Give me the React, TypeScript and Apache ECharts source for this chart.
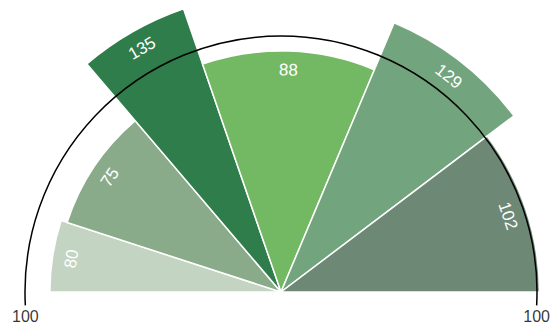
import React, { useEffect, useRef } from 'react';
import * as echarts from 'echarts';

// slice values (radius) in drawing order, left to right
const values = [80, 75, 135, 88, 129, 102];
// angular share of each slice (degrees of the half circle)
const angularSpans = [18, 31.6, 21.4, 41.8, 30.1, 37.1];
const colors = ['#c4d4c2', '#8aab8a', '#2e7d4a', '#73b862', '#72a47e', '#6e8876'];
// reference ring value and where its tick labels sit on the angle scale
const ringValue = 100;
const ringLabelAngles = [-3, 183];

const FONT = 'Liberation Sans, Arial, Helvetica, sans-serif';

export default function App() {
  const ref = useRef<HTMLDivElement>(null);
  useEffect(() => {
    const chart = echarts.init(ref.current!, null, { renderer: 'svg' });
    let acc = 0;
    const sectorData = values.map((v, i) => {
      const a0 = acc;
      acc += angularSpans[i];
      return [v, a0, acc];
    });

    const renderSector = (params: any, api: any) => {
      const cs = params.coordSys;
      const v = api.value(0);
      const p0 = api.coord([v, api.value(1)]);
      const p1 = api.coord([v, api.value(2)]);
      const r = Math.hypot(p0[0] - cs.cx, p0[1] - cs.cy);
      const s = Math.atan2(p0[1] - cs.cy, p0[0] - cs.cx);
      let e = Math.atan2(p1[1] - cs.cy, p1[0] - cs.cx);
      while (e < s) e += 2 * Math.PI;
      return {
        type: 'sector',
        shape: { cx: cs.cx, cy: cs.cy, r0: 0, r, startAngle: s, endAngle: e, clockwise: true },
        style: { fill: colors[params.dataIndex], stroke: '#fff', lineWidth: 1.5 },
      };
    };

    const renderLabel = (params: any, api: any) => {
      const cs = params.coordSys;
      const v = api.value(0);
      const am = (api.value(1) + api.value(2)) / 2;
      const p = api.coord([v, am]);
      const dx = p[0] - cs.cx;
      const dy = p[1] - cs.cy;
      const r = Math.hypot(dx, dy);
      const rl = r - 19;
      const theta = Math.atan2(-dy, dx);
      return {
        type: 'text',
        x: cs.cx + (dx / r) * rl,
        y: cs.cy + (dy / r) * rl,
        rotation: theta - Math.PI / 2,
        style: {
          text: String(v),
          fill: '#fff',
          fontSize: 17,
          fontFamily: FONT,
          align: 'center',
          verticalAlign: 'middle',
        },
      };
    };

    chart.setOption({
      animation: false,
      polar: { center: [281, 292], radius: 256 },
      radiusAxis: { type: 'value', min: -106, max: ringValue, show: false },
      angleAxis: {
        type: 'value',
        min: -3,
        max: 183,
        startAngle: 183,
        endAngle: -3,
        clockwise: true,
        z: 3,
        axisLine: { show: true, lineStyle: { color: '#000', width: 1.5 } },
        axisTick: { show: false },
        axisLabel: { show: false },
        splitLine: { show: false },
      },
      series: [
        {
          type: 'custom',
          coordinateSystem: 'polar',
          renderItem: renderSector,
          data: sectorData,
          z: 1,
          silent: true,
        },
        {
          type: 'custom',
          coordinateSystem: 'polar',
          renderItem: renderLabel,
          data: sectorData,
          z: 4,
          silent: true,
        },
        {
          type: 'scatter',
          coordinateSystem: 'polar',
          data: ringLabelAngles.map((a) => [ringValue, a]),
          symbolSize: 1,
          itemStyle: { color: 'transparent' },
          z: 4,
          silent: true,
          label: {
            show: true,
            position: 'bottom',
            distance: 3,
            formatter: (p: any) => String(p.value[0]),
            color: '#000',
            fontSize: 16,
            fontFamily: FONT,
          },
        },
      ],
    });
    return () => chart.dispose();
  }, []);
  return (
    <div
      ref={ref}
      style={{ position: 'fixed', left: 0, top: 0, width: 552, height: 325, background: '#fff' }}
    />
  );
}
